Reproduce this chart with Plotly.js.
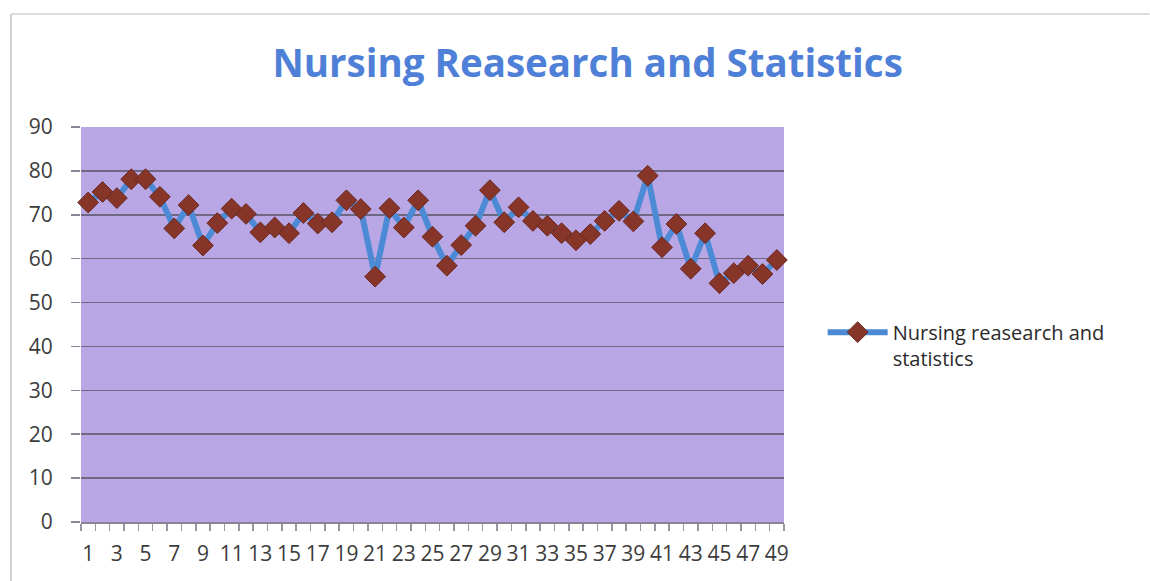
<!DOCTYPE html>
<html>
<head>
<meta charset="utf-8">
<script src="https://cdn.plot.ly/plotly-3.0.1.min.js"></script>
<style>
  html, body { margin: 0; padding: 0; background: #ffffff; }
  #chart { width: 1150px; height: 581px; }
</style>
</head>
<body>
<div id="chart"></div>
<script>
// ---- data ----
const chartTitle = "Nursing Reasearch and Statistics";
const seriesName = "Nursing reasearch and<br>statistics";
const categories = [1,2,3,4,5,6,7,8,9,10,11,12,13,14,15,16,17,18,19,20,21,22,23,24,25,
                    26,27,28,29,30,31,32,33,34,35,36,37,38,39,40,41,42,43,44,45,46,47,48,49];
const scores = [72.8,75.2,73.8,78.1,78.1,74.1,66.9,72.2,63.0,68.1,71.4,70.2,66.0,67.1,65.8,70.4,
                68.0,68.3,73.3,71.3,55.9,71.5,67.1,73.3,65.0,58.4,63.1,67.5,75.6,68.3,71.7,68.6,
                67.5,65.8,64.2,65.6,68.6,70.9,68.5,78.9,62.6,67.9,57.7,65.8,54.4,56.7,58.4,56.5,59.7];
const xTickVals = [1,3,5,7,9,11,13,15,17,19,21,23,25,27,29,31,33,35,37,39,41,43,45,47,49];
const xTickText = ["1","3","5","7","9","11","13","15","17","19","21","23","25","27","29","31","33",
                   "35","37","39","41","43","45","47","49"];
const yTickVals = [0,10,20,30,40,50,60,70,80,90];

const FONT = "Open Sans, Lato, DejaVu Sans, sans-serif";

const trace = {
  type: "scatter",
  mode: "lines+markers",
  x: categories,
  y: scores,
  name: seriesName,
  line: { color: "#4d8ad6", width: 6 },
  marker: { symbol: "diamond", size: 16, color: "#873528",
            line: { color: "#6a2820", width: 1 } },
  cliponaxis: false
};

const layout = {
  width: 1150,
  height: 581,
  margin: { l: 81, r: 366, t: 127, b: 59 },
  paper_bgcolor: "#ffffff",
  plot_bgcolor: "#b9a7e5",
  showlegend: true,
  title: {
    text: "<b>" + chartTitle + "</b>",
    font: { family: FONT, size: 38.5, color: "#4f80d8" },
    x: 0.511, xanchor: "center",
    y: 64, yref: "container", yanchor: "middle"
  },
  xaxis: {
    type: "linear",
    range: [0.5, 49.5],
    tickmode: "array",
    tickvals: xTickVals,
    ticktext: xTickText,
    tickangle: 0,
    ticks: "",
    ticklabelstandoff: 12,
    tickfont: { family: FONT, size: 21, color: "#3c3c3c" },
    showgrid: false,
    zeroline: false,
    showline: true,
    linecolor: "#8a8496",
    linewidth: 1.5,
    minor: { tick0: 0.5, dtick: 1, ticks: "outside", ticklen: 7,
             tickcolor: "#9a94a6", tickwidth: 1.5, showgrid: false },
    fixedrange: true
  },
  yaxis: {
    range: [0, 90],
    tickmode: "array",
    tickvals: yTickVals,
    ticks: "outside",
    ticklen: 9,
    tickcolor: "#8a8496",
    tickwidth: 1.5,
    ticklabelstandoff: 14,
    tickfont: { family: FONT, size: 21, color: "#3c3c3c" },
    showgrid: true,
    gridcolor: "#6e6882",
    gridwidth: 1.5,
    zeroline: false,
    showline: false,
    fixedrange: true
  },
  legend: {
    x: 1.055, xanchor: "left",
    y: 0.53, yanchor: "top",
    valign: "top",
    itemwidth: 60,
    font: { family: FONT, size: 20, color: "#2a2a2a" },
    bgcolor: "rgba(0,0,0,0)"
  },
  shapes: [
    // faint outer frame of the chart object
    { type: "line", xref: "paper", yref: "paper", x0: -0.0996, x1: -0.0996, y0: -0.15, y1: 1.286,
      line: { color: "#c4c4c4", width: 1.5 } },
    { type: "line", xref: "paper", yref: "paper", x0: -0.0996, x1: 1.52, y0: 1.286, y1: 1.286,
      line: { color: "#d0d0d0", width: 1.5 } }
  ]
};

Plotly.newPlot("chart", [trace], layout, { displayModeBar: false, staticPlot: true });
</script>
</body>
</html>
